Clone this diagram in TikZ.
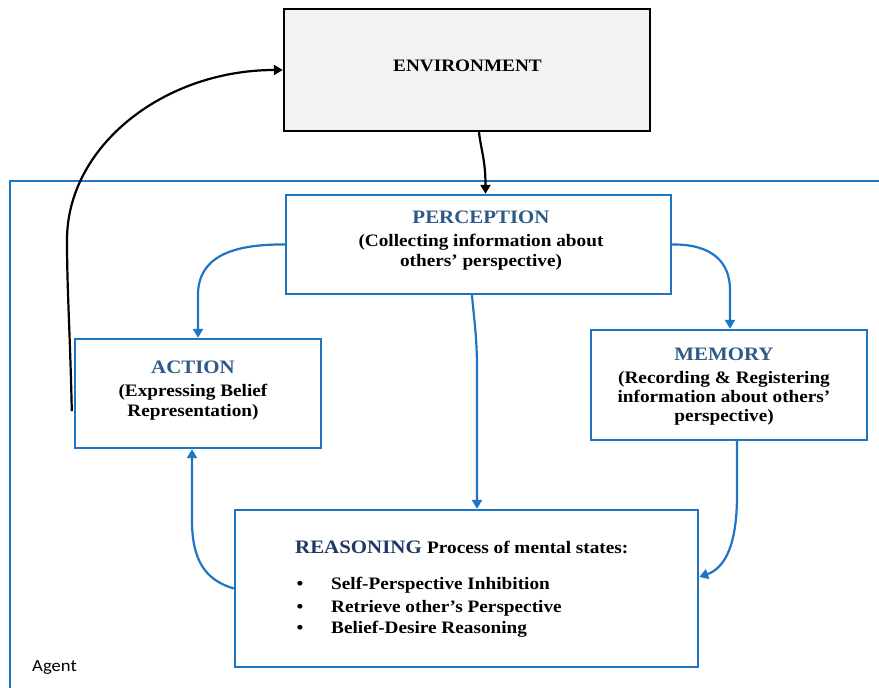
\documentclass[tikz,border=0pt]{standalone}
\usepackage{fontspec}
\setmainfont{Liberation Serif}[FakeStretch=1.1]
\newfontfamily\agentfont{Carlito}[FakeStretch=1.1]
\usetikzlibrary{arrows.meta,calc}
\definecolor{lblue}{RGB}{30,117,196}
\definecolor{head}{RGB}{46,90,136}
\definecolor{headdark}{RGB}{31,56,100}
\definecolor{envfill}{RGB}{242,242,242}
\begin{document}
\begin{tikzpicture}[x=1pt,y=-1pt,
  bluebox/.style={draw=lblue,line width=2.4pt,fill=white,inner sep=0pt,rectangle},
  envbox/.style={draw=black,line width=2.4pt,fill=envfill,inner sep=0pt,rectangle},
  txt/.style={anchor=base,inner sep=0pt,font=\fontsize{17.5}{20}\selectfont\bfseries},
  hd/.style={anchor=base,inner sep=0pt,font=\fontsize{19}{22}\selectfont\bfseries,text=head},
  bconn/.style={draw=lblue,line width=2.2pt,-{Triangle[length=9pt,width=10pt]}},
  kconn/.style={draw=black,line width=2.2pt,-{Triangle[length=9pt,width=10pt]}}]
\useasboundingbox (0,0) rectangle (879,688);
\fill[white] (0,0) rectangle (879,688);
% agent frame
\draw[lblue,line width=2pt] (879,181) -- (10,181) -- (10,688);
\node[anchor=base west,inner sep=0pt,font=\agentfont\fontsize{17}{20}\selectfont] (agentlbl) at (32,671) {Agent};
% boxes
\node[envbox,minimum width=366pt,minimum height=122pt] (env) at (467,70) {};
\node[bluebox,minimum width=385pt,minimum height=99pt] (perc) at (478.5,244.5) {};
\node[bluebox,minimum width=246pt,minimum height=109pt] (act) at (198,393.5) {};
\node[bluebox,minimum width=276pt,minimum height=110pt] (mem) at (729,385) {};
\node[bluebox,minimum width=463pt,minimum height=157pt] (reas) at (466.5,588.5) {};
% texts
\node[txt] (envT) at (467.5,71) {ENVIRONMENT};
\node[hd] (percT1) at (481,223) {PERCEPTION};
\node[txt] (percT2) at (481,246) {(Collecting information about};
\node[txt] (percT3) at (481,266) {others’ perspective)};
\node[hd] (actT1) at (193,373) {ACTION};
\node[txt] (actT2) at (193,396) {(Expressing Belief};
\node[txt] (actT3) at (193,416) {Representation)};
\node[hd] (memT1) at (724,360) {MEMORY};
\node[txt] (memT2) at (724,383) {(Recording \& Registering};
\node[txt] (memT3) at (724,402) {information about others’};
\node[txt] (memT4) at (724,421) {perspective)};
\node[hd,anchor=base west,text=headdark] (reasT1) at (295,553) {REASONING};
\node[txt,anchor=base west] (reasT2) at ([xshift=5pt]reasT1.base east) {Process of mental states:};
\node[txt] (b1) at (300,589) {•};
\node[txt] (b2) at (300,612) {•};
\node[txt] (b3) at (300,633) {•};
\node[txt,anchor=base west] (i1) at (331,589) {Self-Perspective Inhibition};
\node[txt,anchor=base west] (i2) at (331,612) {Retrieve other’s Perspective};
\node[txt,anchor=base west] (i3) at (331,633) {Belief-Desire Reasoning};
% connectors
\coordinate (actout) at ($(act.south west)+(-2,-38)$);
\draw[kconn] ([xshift=12pt]env.south) .. controls (481,150) and (485.5,160) .. ([xshift=7pt]perc.north);
\draw[kconn] (actout) .. controls (70,330) and (67,290) .. (67,240) .. controls (67,146) and (164,70) .. (env.west);
\draw[bconn] (perc.west) .. controls (230,244) and (198,258) .. (198,295) -- (act.north);
\draw[bconn] (perc.east) .. controls (712,244) and (730,262) .. (730,290) -- ([xshift=1pt]mem.north);
\draw[bconn] ([xshift=-6.5pt]perc.south) .. controls (474,320) and (477,335) .. (477,370) -- ([xshift=10.5pt]reas.north);
\draw[bconn] ([xshift=8pt]mem.south) -- (737,495) .. controls (737,545) and (725,568) .. ([yshift=11.5pt]reas.east);
\draw[bconn] (reas.west) .. controls (205,580) and (192,560) .. (192,520) -- ([xshift=-6pt]act.south);
\end{tikzpicture}
\end{document}
